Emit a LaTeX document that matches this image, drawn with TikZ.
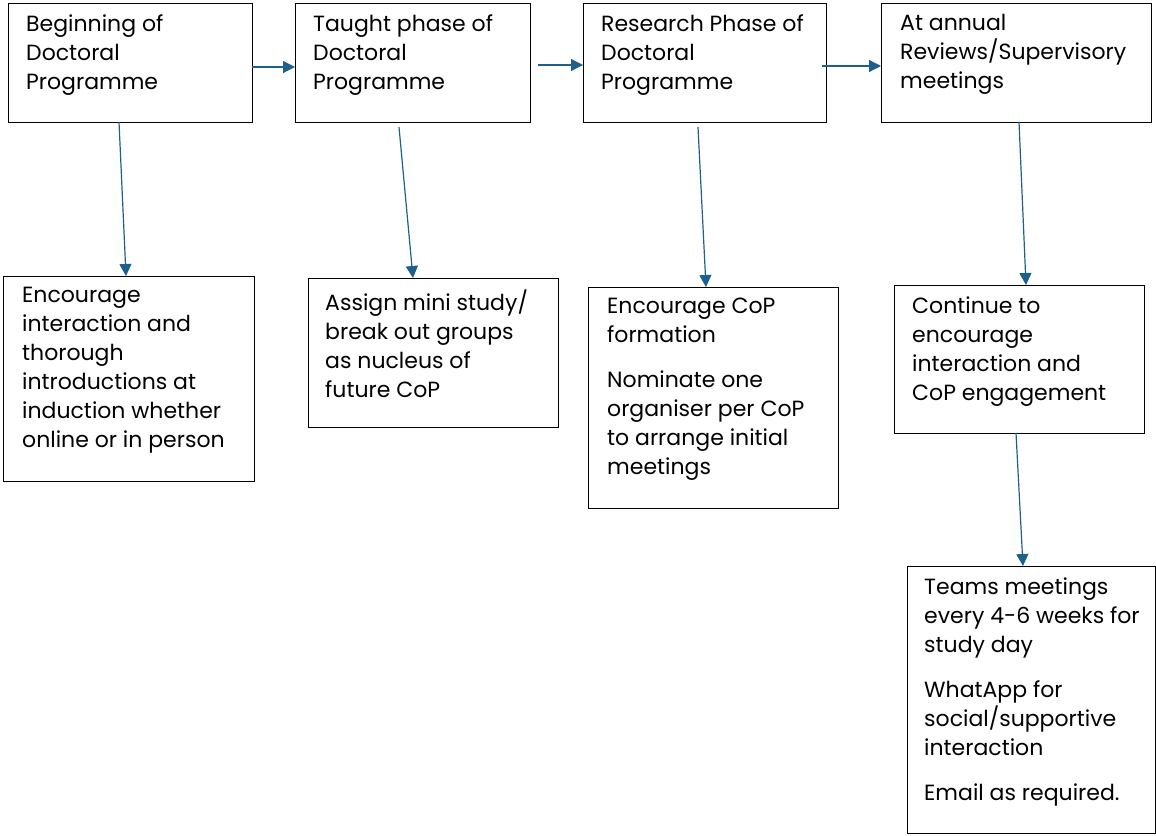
\documentclass[tikz,border=0pt]{standalone}
\usepackage{fontspec}
\setmainfont{Poppins}
\usetikzlibrary{arrows.meta}
\definecolor{arrowblue}{HTML}{1F5F8B}
\tikzset{
  box/.style={draw=black, line width=1.4pt, inner sep=0pt, anchor=north west},
  txt/.style={anchor=north west, inner sep=0pt, align=left, font=\fontsize{22pt}{29pt}\selectfont},
  conn/.style={draw=arrowblue, line width=1.2pt, -{Triangle[length=12pt,width=12pt]}},
}
\begin{document}
\begin{tikzpicture}[x=1pt,y=-1pt]
\useasboundingbox (0,0) rectangle (1156,835);
% top boxes
\node[box, minimum width=244pt, minimum height=119pt] (b1) at (8,3) {};
\node[box, minimum width=235pt, minimum height=119pt] (b2) at (295,3) {};
\node[box, minimum width=243pt, minimum height=119pt] (b3) at (583,3) {};
\node[box, minimum width=270pt, minimum height=119pt] (b4) at (881,3) {};
% bottom boxes
\node[box, minimum width=251pt, minimum height=205pt] (c1) at (3,276) {};
\node[box, minimum width=250pt, minimum height=149pt] (c2) at (308,278) {};
\node[box, minimum width=250pt, minimum height=221pt] (c3) at (588,287) {};
\node[box, minimum width=250pt, minimum height=148pt] (c4) at (894,285) {};
\node[box, minimum width=248pt, minimum height=267pt] (c5) at (907,566) {};
% texts
\node[txt] (t1) at (26,14) {Beginning of\\Doctoral\\Programme};
\node[txt] (t2) at (313,14) {Taught phase of\\Doctoral\\Programme};
\node[txt] (t3) at (601,14) {Research Phase of\\Doctoral\\Programme};
\node[txt] (t4) at (900,14) {At annual\\Reviews/Supervisory\\meetings};
\node[txt] (u1) at (22,287) {Encourage\\interaction and\\thorough\\introductions at\\induction whether\\online or in person};
\node[txt] (u2) at (325,290) {Assign mini study/\\break out groups\\as nucleus of\\future CoP};
\node[txt] (u3) at (607,298) {Encourage CoP\\formation\\[16pt]Nominate one\\organiser per CoP\\to arrange initial\\meetings};
\node[txt] (u4) at (912,297) {Continue to\\encourage\\interaction and\\CoP engagement};
\node[txt] (u5) at (924,578) {Teams meetings\\every 4-6 weeks for\\study day\\[16pt]WhatApp for\\social/supportive\\interaction\\[16pt]Email as required.};
% connector anchors
\coordinate (h1s) at (252,67); \coordinate (h1e) at (295,67);
\coordinate (h2s) at (538,65); \coordinate (h2e) at (583,65);
\coordinate (h3s) at (822,66); \coordinate (h3e) at (881,66);
\coordinate (v1s) at (119,122); \coordinate (v1e) at (126,276);
\coordinate (v2s) at (399,127); \coordinate (v2e) at (413,278);
\coordinate (v3s) at (698,127); \coordinate (v3e) at (706,287);
\coordinate (v4s) at (1019,122); \coordinate (v4e) at (1026,285);
\coordinate (v5s) at (1016,433); \coordinate (v5e) at (1023,566);
\draw[conn] (h1s) -- (h1e);
\draw[conn] (h2s) -- (h2e);
\draw[conn] (h3s) -- (h3e);
\draw[conn] (v1s) -- (v1e);
\draw[conn] (v2s) -- (v2e);
\draw[conn] (v3s) -- (v3e);
\draw[conn] (v4s) -- (v4e);
\draw[conn] (v5s) -- (v5e);
\end{tikzpicture}
\end{document}
